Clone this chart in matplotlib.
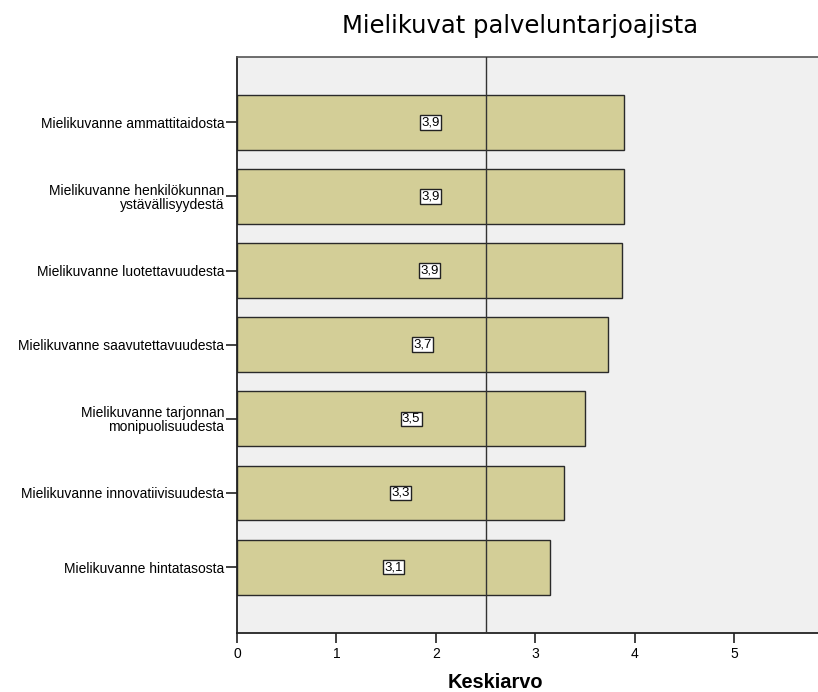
import matplotlib.pyplot as plt

# mean scores, top bar first
labels = [
    "Mielikuvanne ammattitaidosta",
    "Mielikuvanne henkilökunnan\nystävällisyydestä",
    "Mielikuvanne luotettavuudesta",
    "Mielikuvanne saavutettavuudesta",
    "Mielikuvanne tarjonnan\nmonipuolisuudesta",
    "Mielikuvanne innovatiivisuudesta",
    "Mielikuvanne hintatasosta",
]
means = [3.89, 3.89, 3.87, 3.73, 3.50, 3.29, 3.15]
ref_value = 2.5

fig = plt.figure(figsize=(8.18, 6.92), dpi=100)
ax = fig.add_axes([0.2897, 0.0857, 0.7103, 0.8323])
ax.set_facecolor("#f0f0f0")

ypos = list(range(len(labels)))
ax.barh(ypos, means, height=0.74, color="#d3ce97", edgecolor="#2a2a2a",
        linewidth=1.0, zorder=2)
ax.axvline(ref_value, color="#333333", linewidth=1.0, zorder=3)

for y, m in zip(ypos, means):
    ax.text(m / 2, y, f"{m:.1f}".replace(".", ","), ha="center", va="center",
            fontsize=9.5, family="Liberation Sans", zorder=4,
            bbox=dict(boxstyle="square,pad=0.1", facecolor="white",
                      edgecolor="#222222", linewidth=1.0))

ax.set_xlim(0, 5.84)
ax.set_ylim(6.885, -0.885)
ax.set_xticks([0, 1, 2, 3, 4, 5])
ax.set_yticks(ypos)
ax.set_yticklabels(labels, family="Liberation Sans", fontsize=10,
                   linespacing=1.0)
ax.tick_params(axis="y", length=8, width=1.2, pad=1, color="#222222")
ax.tick_params(axis="x", length=7, width=1.2, pad=3, color="#222222",
               labelsize=10)
for t in ax.get_xticklabels():
    t.set_family("Liberation Sans")

for side in ("left", "bottom"):
    ax.spines[side].set_linewidth(1.3)
    ax.spines[side].set_color("#222222")
ax.spines["top"].set_color("#555555")
ax.spines["top"].set_linewidth(1.2)
ax.spines["right"].set_visible(False)

fig.text(495 / 818, 1 - 683 / 692, "Keskiarvo", ha="center", va="center",
         family="Liberation Sans", fontsize=14.4, fontweight="bold")
fig.text(520 / 818, 1 - 33 / 692, "Mielikuvat palveluntarjoajista",
         ha="center", va="baseline", fontsize=17.5, family="DejaVu Sans")

fig.savefig("out.png", dpi=100)
